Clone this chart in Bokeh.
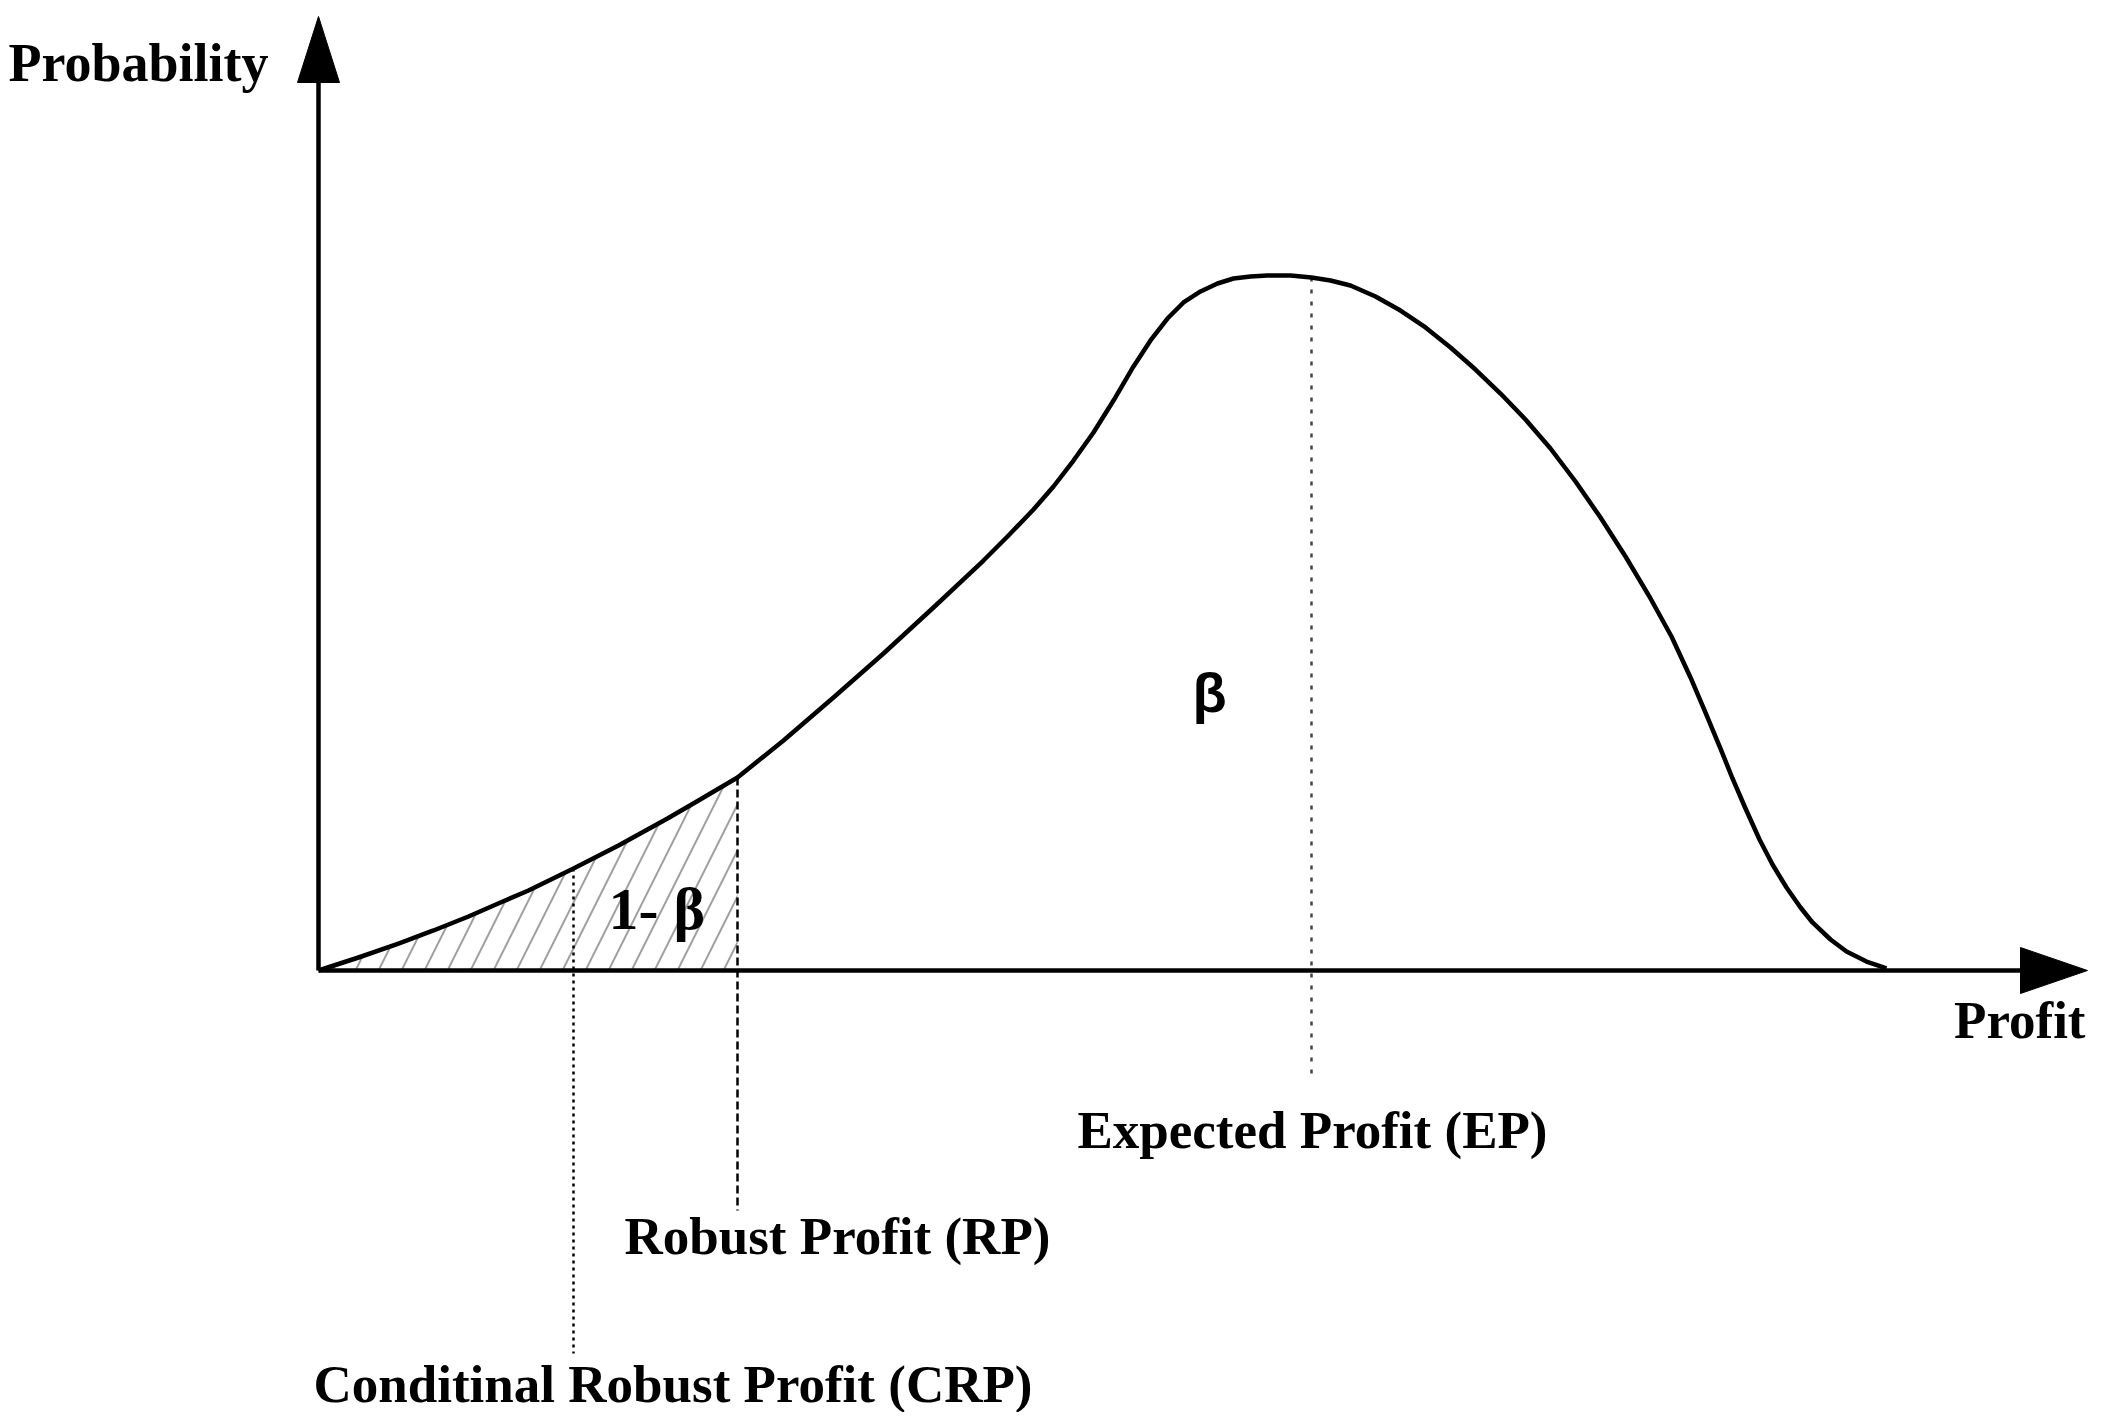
from bokeh.plotting import figure
from bokeh.models import Range1d, Label
from bokeh.embed import file_html
from bokeh.resources import INLINE

# ---- data (profit units 0..100, probability with peak = 1) ----
profit = [0.000, 2.551, 5.102, 7.334, 9.566, 11.607, 13.393, 16.263, 19.133, 22.258,
          24.235, 26.722, 29.656, 32.844, 36.033, 39.222, 42.411, 44.005, 45.599, 46.875, 48.151,
          49.426, 50.702, 51.977, 53.061, 54.145, 55.166, 56.250, 57.334, 58.355, 59.439,
          60.523, 61.990, 63.329, 64.541, 65.816, 67.411, 69.005, 70.599, 72.194, 73.788,
          75.383, 76.977, 78.571, 80.166, 81.760, 83.355, 84.949, 86.288, 87.500, 88.457,
          89.413, 90.179, 91.008, 91.901, 92.730, 93.622, 94.515, 95.281, 96.429, 97.449,
          98.724, 100.000]
probability = [0.0000, 0.0187, 0.0388, 0.0576, 0.0777, 0.0978, 0.1151, 0.1468, 0.1799, 0.2187,
               0.2446, 0.2777, 0.3309, 0.3928, 0.4561, 0.5223, 0.5899, 0.6259, 0.6633, 0.6964, 0.7338,
               0.7741, 0.8201, 0.8691, 0.9065, 0.9381, 0.9612, 0.9770, 0.9885, 0.9957, 0.9986,
               1.0000, 1.0000, 0.9971, 0.9928, 0.9856, 0.9698, 0.9496, 0.9252, 0.8964, 0.8647,
               0.8302, 0.7928, 0.7511, 0.7036, 0.6518, 0.5957, 0.5353, 0.4806, 0.4216, 0.3712,
               0.3194, 0.2763, 0.2331, 0.1885, 0.1525, 0.1194, 0.0906, 0.0691, 0.0446, 0.0273,
               0.0129, 0.0029]

crp_x, crp_y = 16.263, 0.1468
rp_x, rp_y = 26.722, 0.2777
ep_x, ep_y = 63.329, 0.9971

marker_names = ["Conditinal Robust Profit (CRP)", "Robust  Profit (RP)", "Expected Profit (EP)"]
axis_titles = ["Probability", "Profit"]
area_labels = ["1- β", "β"]

# ---- layout (pixels) ----
W, H = 2089, 1412
OX, OY = 318, 970          # origin in picture pixels
SX, SY = 15.68, 695.0      # px per unit
def ux(px):
    return (px - OX) / SX
def uy(py):
    return (OY - py) / SY

p = figure(width=W, height=H, output_backend="svg", toolbar_location=None,
           x_range=Range1d(ux(0), ux(W)), y_range=Range1d(uy(H), uy(0)),
           x_axis_location=None, y_axis_location=None, min_border=0, title=None)
p.grid.visible = False
p.outline_line_color = None
p.background_fill_color = "white"
p.border_fill_color = "white"

# hatched tail region (profit <= RP)
tail_x = [x for x in profit if x <= rp_x]
tail_y = probability[:len(tail_x)]
p.varea(x=tail_x, y1=[0] * len(tail_x), y2=tail_y, fill_alpha=0,
        hatch_pattern="/", hatch_color="#a0a0a0", hatch_weight=2, hatch_scale=46)

# vertical reference lines
p.segment(x0=[crp_x], y0=[crp_y], x1=[crp_x], y1=[uy(1353)], line_color="black",
          line_width=2.5, line_dash="3 4")
p.segment(x0=[rp_x], y0=[rp_y], x1=[rp_x], y1=[uy(1210)], line_color="black",
          line_width=2.5, line_dash="8 4")
p.segment(x0=[ep_x], y0=[ep_y], x1=[ep_x], y1=[uy(1075)], line_color="#444444",
          line_width=2.5, line_dash="4 8")

# density curve
p.line(profit, probability, line_color="black", line_width=4.5, line_join="round")

# axes with arrow heads
x_end, y_end = ux(2087), uy(16)
head_len_x, head_half_x = 67 / SX, 23 / SY
head_len_y, head_half_y = 66 / SY, 21 / SX
p.segment(x0=[0, 0], y0=[0, 0], x1=[x_end - head_len_x, 0], y1=[0, y_end - head_len_y],
          line_color="black", line_width=4.5)
p.patches(xs=[[x_end, x_end - head_len_x, x_end - head_len_x],
              [0, -head_half_y, head_half_y]],
          ys=[[0, head_half_x, -head_half_x],
              [y_end, y_end - head_len_y, y_end - head_len_y]],
          fill_color="black", line_color="black", line_width=1)

FONT = "Liberation Serif"
def lab(text, x, y, align="left", size="53px", style="bold", font=FONT):
    p.add_layout(Label(x=x, y=y, text=text, text_font=font, text_font_size=size,
                       text_font_style=style, text_align=align,
                       text_baseline="alphabetic", text_color="black"))

lab(axis_titles[0], ux(8), uy(62), size="54px")
lab(axis_titles[1], ux(2085), uy(1019), align="right")
lab(marker_names[2], ux(1077), uy(1129))
lab(marker_names[1], ux(624), uy(1235))
lab(marker_names[0], ux(313), uy(1383))
lab(area_labels[1], ux(1209), uy(692), align="center", size="56px", style="bold",
    font="Liberation Sans")
lab(area_labels[0], ux(608), uy(908), size="60px")

open("out.html", "w").write(file_html(p, INLINE))
